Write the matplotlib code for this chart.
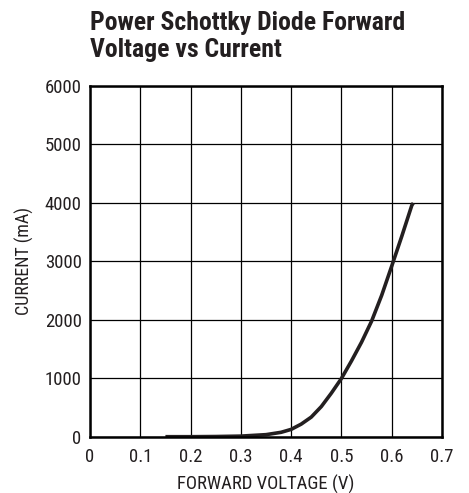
import matplotlib
matplotlib.use("Agg")
import matplotlib.pyplot as plt

# curve
voltage = [0.15, 0.20, 0.25, 0.30, 0.35, 0.38, 0.40, 0.42, 0.44, 0.46, 0.48,
           0.50, 0.52, 0.54, 0.56, 0.58, 0.60, 0.62, 0.64, 0.643]
current = [5, 5, 8, 15, 40, 80, 130, 220, 340, 520, 750,
           1000, 1300, 1620, 1980, 2420, 2920, 3430, 3960, 4000]

x_ticks = [0, 0.1, 0.2, 0.3, 0.4, 0.5, 0.6, 0.7]
x_labels = ["0", "0.1", "0.2", "0.3", "0.4", "0.5", "0.6", "0.7"]
y_ticks = [0, 1000, 2000, 3000, 4000, 5000, 6000]

plt.rcParams['font.family'] = ['Roboto Condensed', 'DejaVu Sans']
ink = '#231f20'

fig = plt.figure(figsize=(4.69, 4.93), dpi=100)
ax = fig.add_axes([0.1919, 0.1136, 0.7505, 0.712])

ax.plot(voltage, current, color=ink, linewidth=2.6, solid_capstyle='butt')

ax.set_xlim(0, 0.7)
ax.set_ylim(0, 6000)
ax.set_xticks(x_ticks)
ax.set_xticklabels(x_labels)
ax.set_yticks(y_ticks)
ax.tick_params(length=0, labelsize=13.5, colors=ink)
ax.tick_params(axis='x', pad=8)
ax.tick_params(axis='y', pad=6)
ax.grid(True, color='black', linewidth=0.9)
for s in ax.spines.values():
    s.set_linewidth(1.8)
    s.set_color('black')

ax.set_xlabel("FORWARD VOLTAGE (V)", fontsize=13.5, color=ink, labelpad=6)
ax.set_ylabel("CURRENT (mA)", fontsize=13, color=ink, labelpad=8)

fig.text(0.1919, 0.978, "Power Schottky Diode Forward\nVoltage vs Current",
         fontsize=18.5, fontweight='bold', color=ink, ha='left', va='top',
         linespacing=1.15)

fig.savefig("out.png", dpi=100)
